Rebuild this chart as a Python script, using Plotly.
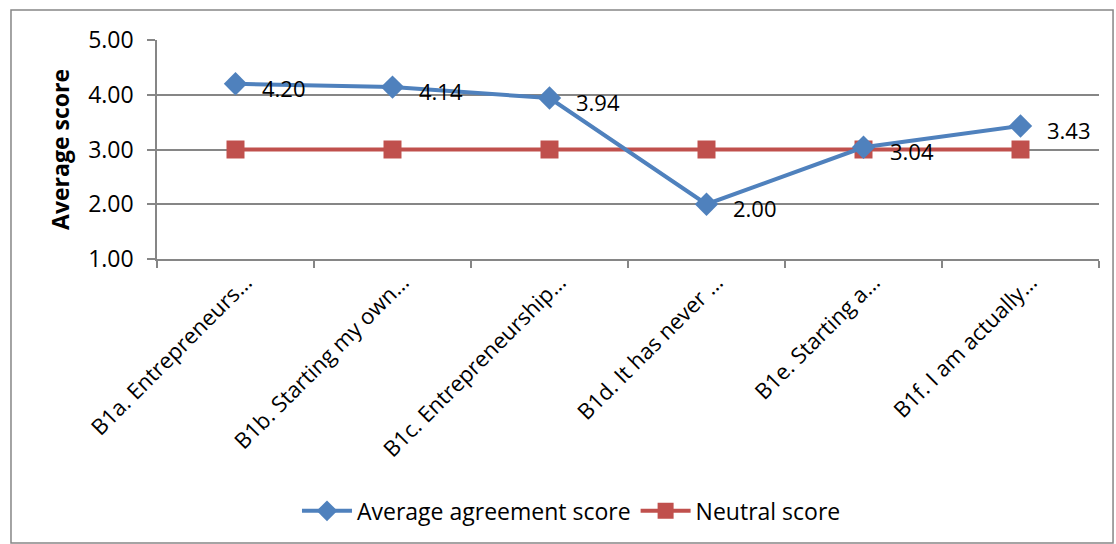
import plotly.graph_objects as go

categories = [
    "B1a. Entrepreneurs…",
    "B1b. Starting my own…",
    "B1c. Entrepreneurship…",
    "B1d. It has never …",
    "B1e. Starting a…",
    "B1f. I am actually…",
]
avg_scores = [4.20, 4.14, 3.94, 2.00, 3.04, 3.43]
neutral_scores = [3.00, 3.00, 3.00, 3.00, 3.00, 3.00]
y_ticks = [1, 2, 3, 4, 5]

BLUE = "#4F81BD"
RED = "#C0504D"
GRID = "#868686"
FONT = "Open Sans"

fig = go.Figure()

fig.add_trace(go.Scatter(
    x=categories, y=neutral_scores, name="Neutral score",
    mode="lines+markers",
    line=dict(color=RED, width=4),
    marker=dict(symbol="square", size=18, color=RED),
    cliponaxis=False,
))

fig.add_trace(go.Scatter(
    x=categories, y=avg_scores, name="Average agreement score",
    mode="lines+markers",
    line=dict(color=BLUE, width=4),
    marker=dict(symbol="diamond", size=18, color=BLUE),
    cliponaxis=False,
))

# Value labels to the right of each point
for cat, v in zip(categories, avg_scores):
    fig.add_annotation(x=cat, y=v, text=f"{v:.2f}", showarrow=False,
                       xanchor="left", yanchor="middle", xshift=24, yshift=-4,
                       font=dict(family=FONT, size=22, color="#000000"))

# Outer chart border
fig.add_shape(type="rect", xref="paper", yref="paper",
              x0=-0.155, x1=1.0149, y0=-1.297, y1=1.137,
              line=dict(color=GRID, width=1.5), fillcolor="rgba(0,0,0,0)",
              layer="below")

fig.update_layout(
    width=1116, height=544,
    margin=dict(l=157, r=17, t=40, b=285),
    paper_bgcolor="white", plot_bgcolor="white",
    font=dict(family=FONT, color="#000000"),
    showlegend=True,
    legend=dict(orientation="h", x=0.44, xanchor="center", y=-1.15, yanchor="middle",
                font=dict(family=FONT, size=23), traceorder="reversed",
                itemwidth=50),
    xaxis=dict(
        type="category", tickangle=-45,
        tickfont=dict(family=FONT, size=22),
        showgrid=False, showline=True, linecolor=GRID, linewidth=1.5,
        ticks="outside", ticklen=7, tickcolor=GRID, tickwidth=1.5,
        tickson="boundaries", range=[-0.5, 5.5], automargin=False,
        ticklabelshift=10,
    ),
    yaxis=dict(
        range=[1, 5], tickvals=y_ticks, tickformat=".2f",
        tickfont=dict(family=FONT, size=23),
        showgrid=True, gridcolor=GRID, gridwidth=1.5,
        showline=True, linecolor=GRID, linewidth=1.5,
        ticks="outside", ticklen=8, tickcolor=GRID, tickwidth=1.5,
        ticklabelstandoff=9,
        zeroline=False, automargin=False,
        title=dict(text="<b>Average score</b>", font=dict(family=FONT, size=23), standoff=12),
    ),
)

fig.write_html("out.html")
